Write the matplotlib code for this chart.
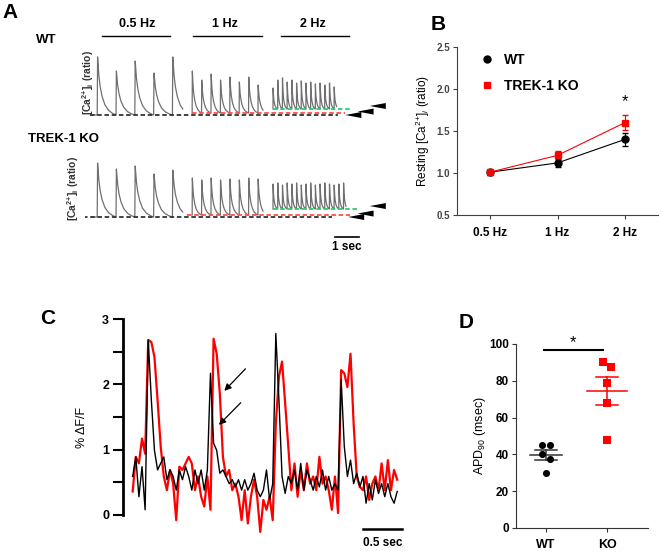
import numpy as np
import matplotlib
matplotlib.use('Agg')
import matplotlib.pyplot as plt
from matplotlib.lines import Line2D
from matplotlib.ticker import MultipleLocator

plt.rcParams['font.family'] = ['Liberation Sans', 'DejaVu Sans']
plt.rcParams['mathtext.fontset'] = 'custom'
plt.rcParams['mathtext.rm'] = 'Liberation Sans'
plt.rcParams['mathtext.it'] = 'Liberation Sans:italic'
plt.rcParams['mathtext.bf'] = 'Liberation Sans:bold'

W, H = 663, 554

# ---------------- panel A: paced Ca2+ transients (ratio, time in s)
freq_labels = ['0.5 Hz', '1 Hz', '2 Hz']
beat_period = [2.0, 1.0, 0.5]
seg_start = [1.3, 11.4, 20.0]
wt_peaks = [[4.87, 3.93, 4.60, 3.80, 4.87],
            [3.93, 3.33, 3.73, 3.33, 3.53, 3.20, 3.53, 3.00],
            [2.80, 3.33, 3.47, 3.20, 3.33, 3.13, 3.27, 3.13, 3.20, 3.07, 3.13, 3.00, 3.13, 2.87]]
wt_rest = [1.0, 1.13, 1.40]
ko_peaks = [[4.60, 4.20, 4.40, 3.87, 4.13],
            [3.60, 3.47, 3.60, 3.47, 3.53, 3.47, 3.60, 3.53],
            [3.20, 3.27, 3.13, 3.27, 3.20, 3.27, 3.13, 3.20, 3.27, 3.13, 3.20, 3.27, 3.20, 3.13, 3.20, 3.27]]
ko_rest = [1.0, 1.13, 1.53]
# shape of one transient over one beat period (fraction of amplitude)
shape_phase = [0, 0.02, 0.08, 0.15, 0.25, 0.40, 0.60, 0.80, 1.0]
shape_value = [0, 1.00, 0.70, 0.50, 0.33, 0.18, 0.08, 0.03, 0.0]
# dashed resting levels: (start, end) in s for black / red / green
wt_dash = [(0.5, 26.9), (11.4, 27.7), (20.0, 28.4)]
ko_dash = [(-0.2, 26.3), (10.85, 28.2), (20.0, 29.0)]
wt_arrow_tip = [27.7, 29.0, 30.3]
ko_arrow_tip = [28.0, 29.0, 30.3]

# ---------------- panel B
b_freqs = ['0.5 Hz', '1 Hz', '2 Hz']
b_wt = [1.01, 1.12, 1.40]
b_wt_err = [0.03, 0.05, 0.08]
b_ko = [1.01, 1.21, 1.60]
b_ko_err = [0.02, 0.05, 0.09]

# ---------------- panel C: optical AP traces (% dF/F)
c_red = [0.36, 0.89, 0.79, 1.17, 0.94, 2.68, 2.65, 2.42, 1.76, 1.05,
         0.59, 0.38, 0.69, 0.48, -0.08, 0.74, 0.69, 0.79, 0.89, 0.79,
         0.38, 0.59, 0.28, 0.13, 0.59, 0.08, 2.70, 2.47, 1.86, 0.89,
         0.59, 0.69, 0.38, 0.48, 0.28, -0.08, 0.38, -0.13, 0.28, 0.54,
         0.28, -0.26, 0.23, 0.08, 0.28, -0.08, 1.40, 2.12, 2.35, 1.71,
         1.05, 0.38, 0.79, 0.28, 0.69, 0.38, 0.79, 0.48, 0.59, 0.38,
         0.89, 0.48, 0.59, 0.38, 0.08, 0.59, 0.03, 2.22, 2.17, 1.96,
         2.47, 1.40, 0.59, 0.43, 0.38, 0.59, 0.23, 0.48, 0.59, 0.38,
         0.79, 0.38, 0.84, 0.38, 0.69, 0.54]
c_black = [0.59, 0.89, 0.28, 0.74, 0.08, 2.68, 1.76, 0.99, 0.69, 0.79,
           0.89, 0.54, 0.69, 0.59, 0.38, 0.69, 0.54, 0.74, 0.59, 0.38,
           0.69, 0.48, 0.69, 0.38, 0.69, 2.17, 1.10, 0.99, 0.64, 0.69,
           0.59, 0.48, 0.54, 0.43, 0.54, 0.38, 0.54, 0.38, 0.48, 0.64,
           0.38, 0.28, 0.38, 0.69, 0.23, 0.48, 2.78, 1.76, 0.59, 0.33,
           0.59, 0.48, 0.69, 0.38, 0.79, 0.38, 0.69, 0.54, 0.38, 0.59,
           0.43, 0.69, 0.38, 0.59, 0.38, 0.48, 0.38, 2.07, 1.05, 0.59,
           0.84, 0.48, 0.64, 0.43, 0.59, 0.18, 0.48, 0.23, 0.54, 0.33,
           0.48, 0.28, 0.48, 0.28, 0.18, 0.36]
c_duration = 3.39
# arrows: (tail t, tail y, head t, head y)
c_arrows = [(1.47, 2.27, 1.15, 1.87), (1.41, 1.75, 1.08, 1.35)]

# ---------------- panel D
d_groups = ['WT', 'KO']
apd_wt = [45, 45, 40, 37.5, 30]
apd_ko = [90, 87.5, 79, 68, 48]
jit_wt = [-0.066, 0.066, -0.066, 0.066, 0]
jit_ko = [-0.066, 0.066, 0, 0, 0]


def box(x0, y0, x1, y1):
    return [x0 / W, 1 - y1 / H, (x1 - x0) / W, (y1 - y0) / H]


def ftext(x, y, s, **kw):
    fig.text(x / W, 1 - y / H, s, **kw)


def fline(x0, x1, y, **kw):
    fig.add_artist(Line2D([x0 / W, x1 / W], [1 - y / H] * 2,
                          transform=fig.transFigure, **kw))


def segment_trace(t0, period, peaks, rest, pre, tail):
    n = len(peaks)
    t = np.arange(t0 - pre, t0 + (n - 1 + tail) * period, 0.01)
    ph = (t - t0) / period
    k = np.clip(np.floor(ph).astype(int), 0, n - 1)
    frac = ph - k
    amp = np.array(peaks)[k] - rest
    return t, rest + amp * np.interp(frac, shape_phase, shape_value, left=0)


def draw_traces(ax, peaks, rest, dash, tips):
    for i in range(3):
        pre = 0.6 if i == 0 else 0.0
        t, y = segment_trace(seg_start[i], beat_period[i], peaks[i], rest[i],
                             pre, 0.55)
        ax.plot(t, y, color='#707070', lw=0.9)
    cols = ['#333333', '#ff4d4d', '#2ecc71']
    for i in range(3):
        ax.plot(dash[i], [rest[i]] * 2, color=cols[i], lw=1.3,
                dashes=(2.5, 1.5))
        tip = tips[i]
        lvl = rest[i] + 0.1 * i
        ax.fill([tip, tip + 1.7, tip + 1.7], [lvl, lvl + 0.2, lvl - 0.2],
                color='black', lw=0)
    ax.set_axis_off()


fig = plt.figure(figsize=(6.63, 5.54), dpi=100)

# ---- A
px_s, px_u = 9.4, 15.0
axA1 = fig.add_axes(box(85, 45, 395, 120))
axA1.set_xlim(0, 310 / px_s)
axA1.set_ylim(1 - 5 / px_u, 1 + 70 / px_u)
draw_traces(axA1, wt_peaks, wt_rest, wt_dash, wt_arrow_tip)
axA2 = fig.add_axes(box(85, 150, 395, 255))
axA2.set_xlim(0, 310 / px_s)
axA2.set_ylim(1 - 38 / px_u, 1 + 67 / px_u)
draw_traces(axA2, ko_peaks, ko_rest, ko_dash, ko_arrow_tip)
axA2.plot([26.6, 29.15], [-0.33, -0.33], color='black', lw=1.2,
          clip_on=False)
axA2.text(27.9, -1.0, '1 sec', ha='center', va='center', fontsize=8.5,
          fontweight='bold')

ftext(10, 13, 'A', fontsize=15, fontweight='bold', ha='center', va='center')
ftext(46, 40, 'WT', fontsize=9.5, fontweight='bold', ha='center', va='center')
ftext(63, 139, 'TREK-1 KO', fontsize=9.5, fontweight='bold', ha='center',
      va='center')
for lab, xc, (x0, x1) in zip(freq_labels, [137, 225, 313],
                             [(102, 170), (193, 262), (281, 349)]):
    ftext(xc, 24, lab, fontsize=9, fontweight='bold', ha='center',
          va='center')
    fline(x0, x1, 36, color='black', lw=1.0)
ca_lab = r'[Ca$^{\mathbf{2{+}}}$]$_{\mathbf{i}}$ (ratio)'
ftext(88, 83, ca_lab, fontsize=7.5, fontweight='bold', rotation=90,
      ha='center', va='center', color='#333333')
ftext(73, 189, ca_lab, fontsize=7.5, fontweight='bold', rotation=90,
      ha='center', va='center', color='#333333')

# ---- B
axB = fig.add_axes(box(457, 47, 658, 215))
xb = np.arange(len(b_freqs))
axB.errorbar(xb, b_wt, yerr=b_wt_err, color='black', marker='o', ms=5,
             lw=0.8, capsize=2)
axB.errorbar(xb, b_ko, yerr=b_ko_err, color='red', marker='s', ms=5,
             lw=0.8, capsize=2)
axB.set_xlim(-0.49, 2.49)
axB.set_ylim(0.5, 2.5)
axB.set_xticks(xb)
axB.set_xticklabels(b_freqs, fontsize=8.5, fontweight='bold')
axB.yaxis.set_major_locator(MultipleLocator(0.5))
axB.yaxis.set_major_formatter(plt.FormatStrFormatter('%.1f'))
for lab in axB.get_yticklabels():
    lab.set_fontsize(7)
    lab.set_fontweight('bold')
    lab.set_color('#444444')
for s in ['top', 'right']:
    axB.spines[s].set_visible(False)
for s in ['left', 'bottom']:
    axB.spines[s].set_color('#404040')
axB.tick_params(length=3, color='#404040', pad=2)
axB.tick_params(axis='x', pad=6)
axB.set_ylabel(r'Resting [Ca$^{2{+}}$]$_i$ (ratio)', fontsize=8.5,
               labelpad=3)
axB.text(2, 1.85, '*', ha='center', va='center', fontsize=12)
leg_handles = [Line2D([], [], color='black', marker='o', ls='', ms=5),
               Line2D([], [], color='red', marker='s', ls='', ms=5)]
axB.legend(leg_handles, ['WT', 'TREK-1 KO'], loc='upper left',
           bbox_to_anchor=(0.06, 1.04), frameon=False,
           prop={'weight': 'bold', 'size': 10}, handlelength=0.8,
           handletextpad=0.8, labelspacing=0.9)
ftext(438, 25, 'B', fontsize=15, fontweight='bold', ha='center', va='center')

# ---- C
axC = fig.add_axes(box(123, 310, 405, 545))
tc = np.linspace(0, c_duration, len(c_red))
axC.plot(tc, c_red, color='red', lw=1.6)
axC.plot(tc, c_black, color='black', lw=1.0)
for tx, ty, hx, hy in c_arrows:
    axC.annotate('', xy=(hx, hy), xytext=(tx, ty),
                 arrowprops=dict(arrowstyle='-|>', color='black', lw=0.9,
                                 mutation_scale=10))
axC.set_xlim(-0.124, 3.49)
axC.set_ylim(-0.46, 3.14)
for s in ['top', 'right', 'bottom']:
    axC.spines[s].set_visible(False)
axC.spines['left'].set_linewidth(2)
axC.spines['left'].set_bounds(0, 3)
axC.set_xticks([])
axC.set_yticks([0, 1, 2, 3])
axC.yaxis.set_minor_locator(MultipleLocator(0.5))
axC.tick_params(axis='y', which='both', length=7, width=1.5, pad=3)
for lab in axC.get_yticklabels():
    lab.set_fontsize(9)
    lab.set_fontweight('bold')
axC.set_ylabel('% \u0394F/F', fontsize=9, labelpad=10)
axC.plot([2.95, 3.45], [-0.21, -0.21], color='black', lw=1.8, clip_on=False)
axC.text(3.2, -0.43, '0.5 sec', ha='center', va='center', fontsize=8.5,
         fontweight='bold')
ftext(48, 318, 'C', fontsize=15, fontweight='bold', ha='center', va='center')

# ---- D
axD = fig.add_axes(box(516, 344, 648, 528))
cols_d = ['black', 'red']
for i, (vals, jit, mk) in enumerate([(apd_wt, jit_wt, 'o'),
                                     (apd_ko, jit_ko, 's')]):
    axD.scatter(i + np.array(jit), vals, color=cols_d[i], marker=mk, s=26,
                zorder=3, linewidths=0)
    m = np.mean(vals)
    sem = np.std(vals, ddof=1) / np.sqrt(len(vals))
    lc = '#333333' if i == 0 else 'red'
    hw = 0.26 if i == 0 else 0.33
    axD.plot([i - hw, i + hw], [m, m], color=lc, lw=1.1)
    axD.plot([i, i], [m - sem, m + sem], color=lc, lw=1.1)
    axD.plot([i - 0.18, i + 0.18], [m + sem] * 2, color=lc, lw=1.1)
    axD.plot([i - 0.18, i + 0.18], [m - sem] * 2, color=lc, lw=1.1)
axD.plot([-0.03, 0.93], [96.7, 96.7], color='black', lw=1.5, clip_on=False)
axD.text(0.45, 100.5, '*', ha='center', va='center', fontsize=12)
axD.set_xlim(-0.49, 1.67)
axD.set_ylim(0, 100)
axD.set_xticks([0, 1])
axD.set_xticklabels(d_groups, fontsize=9, fontweight='bold')
axD.yaxis.set_major_locator(MultipleLocator(20))
for lab in axD.get_yticklabels():
    lab.set_fontsize(8.5)
    lab.set_fontweight('bold')
for s in ['top', 'right']:
    axD.spines[s].set_visible(False)
for s in ['left', 'bottom']:
    axD.spines[s].set_color('#333333')
axD.tick_params(length=3, color='#333333', pad=2)
axD.tick_params(axis='x', pad=5)
axD.set_ylabel('APD$_{90}$ (msec)', fontsize=9, labelpad=1)
ftext(466, 322, 'D', fontsize=15, fontweight='bold', ha='center', va='center')

fig.savefig('out.png', dpi=100)
